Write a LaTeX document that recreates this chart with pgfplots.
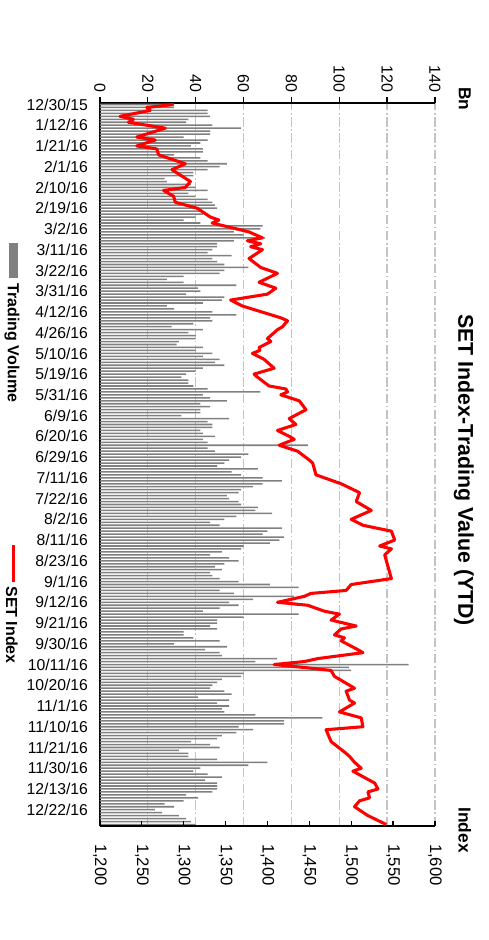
\documentclass[border=0pt]{standalone}
\usepackage{fontspec}
\setmainfont{Liberation Sans}
\usepackage{pgfplots}
\usepackage{pgfplotstable}
\pgfplotsset{compat=1.18}
\definecolor{volgray}{RGB}{128,128,128}
\definecolor{gridgray}{RGB}{196,196,196}

% daily trading value (Bn), one row per trading day from 12/30/15
\pgfplotstableread[row sep=\\]{v\\
31\\31\\45\\45\\46\\37\\36\\47\\59\\46\\
46\\35\\45\\42\\38\\43\\43\\31\\42\\45\\
53\\50\\45\\39\\39\\27\\28\\38\\40\\45\\
37\\40\\45\\47\\48\\49\\43\\43\\40\\35\\
42\\68\\67\\56\\60\\69\\
56\\49\\49\\47\\45\\55\\47\\49\\52\\62\\
52\\50\\35\\28\\35\\57\\41\\42\\36\\52\\
51\\43\\28\\31\\47\\57\\46\\47\\39\\30\\
43\\37\\40\\40\\33\\32\\43\\40\\47\\43\\
50\\48\\52\\43\\40\\36\\34\\37\\37\\39\\
45\\
67\\43\\46\\53\\42\\46\\42\\42\\34\\54\\
45\\47\\47\\42\\43\\48\\43\\45\\87\\45\\
48\\62\\59\\54\\52\\49\\66\\55\\59\\68\\
76\\68\\64\\59\\58\\53\\54\\58\\59\\66\\
65\\72\\57\\52\\46\\50\\76\\70\\
68\\77\\75\\71\\60\\59\\51\\46\\54\\58\\
52\\48\\51\\46\\47\\50\\58\\71\\83\\50\\
56\\81\\64\\54\\58\\50\\43\\83\\60\\49\\
49\\46\\49\\35\\35\\39\\50\\31\\53\\44\\
50\\51\\74\\65\\
129\\104\\105\\60\\59\\
51\\49\\47\\46\\52\\55\\41\\54\\49\\54\\
51\\52\\65\\93\\77\\77\\58\\64\\57\\51\\
49\\38\\46\\50\\33\\37\\37\\49\\70\\62\\
42\\39\\45\\51\\44\\49\\49\\49\\47\\36\\
41\\35\\27\\31\\23\\26\\33\\36\\38\\
40\\
}\vol

% SET index, d = trading-day number
\pgfplotstableread[row sep=\\]{d s\\
0 1288\\ 1 1256\\ 2 1260\\ 4 1224\\ 5 1240\\ 6 1234\\ 8 1278\\ 11 1244\\
12 1266\\ 14 1244\\ 15 1268\\ 17 1270\\ 20 1302\\ 22 1286\\ 26 1308\\
28 1302\\ 29 1276\\ 31 1288\\ 33 1290\\ 35 1316\\ 38 1332\\ 39 1342\\
40 1334\\ 43 1378\\ 45 1394\\ 46 1376\\ 47 1392\\ 48 1380\\ 49 1394\\
52 1378\\ 55 1392\\ 57 1412\\ 60 1390\\ 62 1410\\ 64 1400\\ 66 1356\\
68 1370\\ 72 1416\\ 73 1424\\ 75 1418\\ 76 1412\\ 79 1400\\ 80 1404\\
82 1390\\ 83 1391\\ 84 1382\\ 86 1396\\ 89 1408\\ 91 1384\\ 92 1388\\
95 1402\\ 96 1422\\ 97 1424\\ 98 1416\\ 100 1438\\ 103 1446\\ 106 1426\\
108 1434\\ 110 1412\\ 112 1426\\ 113 1432\\ 115 1414\\ 117 1436\\
120 1450\\ 121 1454\\ 125 1458\\ 128 1488\\ 131 1510\\ 134 1506\\
137 1524\\ 140 1500\\ 142 1514\\ 144 1548\\ 147 1552\\ 149 1534\\
150 1548\\ 152 1540\\ 156 1544\\ 158 1546\\ 160 1548\\ 162 1500\\
164 1494\\ 165 1452\\ 166 1444\\ 168 1412\\ 169 1448\\ 171 1468\\
172 1486\\ 174 1476\\ 176 1506\\ 177 1488\\ 179 1480\\ 180 1492\\
181 1488\\ 184 1508\\ 185 1514\\ 187 1460\\ 188 1444\\ 189 1408\\
190 1444\\ 191 1476\\ 193 1480\\ 197 1504\\ 198 1494\\ 201 1498\\
202 1504\\ 205 1486\\ 207 1512\\ 210 1514\\ 211 1470\\ 215 1476\\
219 1494\\ 220 1498\\ 222 1504\\ 224 1512\\ 225 1502\\ 229 1528\\
231 1532\\ 232 1520\\ 234 1522\\ 235 1510\\ 237 1504\\ 240 1520\\
243 1542\\
}\setidx

\begin{document}
\begin{tikzpicture}
\begin{axis}[
  name=ax, at={(0,0)}, anchor=north west,
  scale only axis, width=251.25pt, height=542.25pt,
  xmin=0, xmax=140, ymin=-243.5, ymax=0.5,
  axis x line*=top, axis y line*=left,
  axis line style={line width=1.5pt, -},
  xtick={0,20,...,140},
  ytick={0,-7,...,-238},
  yticklabels={12/30/15,1/12/16,1/21/16,2/1/16,2/10/16,2/19/16,3/2/16,3/11/16,
    3/22/16,3/31/16,4/12/16,4/26/16,5/10/16,5/19/16,5/31/16,6/9/16,6/20/16,
    6/29/16,7/11/16,7/22/16,8/2/16,8/11/16,8/23/16,9/1/16,9/12/16,9/21/16,
    9/30/16,10/11/16,10/20/16,11/1/16,11/10/16,11/21/16,11/30/16,12/13/16,12/22/16},
  ytick style={draw=none},
  xtick style={line width=1pt, black},
  tick align=outside, major tick length=4.5pt,
  xmajorgrids,
  grid style={gridgray, line width=1pt, dash pattern=on 7pt off 2pt on 1.2pt off 2pt},
  xticklabel style={rotate=-90, anchor=east, font=\fontsize{12}{12}\selectfont},
  yticklabel style={font=\fontsize{11.8}{12}\selectfont, xshift=-1pt},
  /pgf/number format/assume math mode=true,
]
\addplot[xbar, bar width=1.15pt, fill=volgray, draw=none]
  table[x index=0, y index=0, y expr=-\coordindex] {\vol};
\end{axis}

\begin{axis}[
  at={(ax.south west)}, anchor=south west,
  scale only axis, width=251.25pt, height=542.25pt,
  xmin=1200, xmax=1600, ymin=-243.5, ymax=0.5,
  axis x line*=bottom, axis y line=none,
  axis line style={line width=1.5pt, -},
  xtick={1200,1250,...,1600},
  tick align=inside, major tick length=4pt,
  xtick style={line width=1pt, black},
  xticklabel shift=10pt,
  xticklabel style={rotate=-90, anchor=west, font=\fontsize{12.5}{12.5}\selectfont,
    /pgf/number format/1000 sep={,}},
  /pgf/number format/assume math mode=true,
  clip=false,
]
\addplot[red, line width=2.3pt, line join=round] table[x=s, y expr=-\thisrow{d}] {\setidx};
\end{axis}

% title, unit labels and legend (chart is turned a quarter clockwise)
\node[rotate=-90, font=\bfseries\fontsize{16}{16}\selectfont]
  at ([shift={(273pt,-275.25pt)}]ax.north west) {SET Index-Trading Value (YTD)};
\node[rotate=-90, font=\bfseries\fontsize{13}{13}\selectfont]
  at ([shift={(273.75pt,3pt)}]ax.north west) {Bn};
\node[rotate=-90, font=\bfseries\fontsize{13}{13}\selectfont]
  at ([shift={(273.75pt,-545.25pt)}]ax.north west) {Index};
\fill[volgray] ([shift={(-68.25pt,-105pt)}]ax.north west) rectangle ([shift={(-61.5pt,-131.25pt)}]ax.north west);
\node[rotate=-90, font=\bfseries\fontsize{12}{12}\selectfont]
  at ([shift={(-66pt,-180pt)}]ax.north west) {Trading Volume};
\draw[red, line width=2.2pt] ([shift={(-64.9pt,-331.5pt)}]ax.north west) -- ([shift={(-64.9pt,-359.25pt)}]ax.north west);
\node[rotate=-90, font=\bfseries\fontsize{12}{12}\selectfont]
  at ([shift={(-66pt,-391.5pt)}]ax.north west) {SET Index};

\path ([shift={(-73.5pt,77.25pt)}]ax.north west) rectangle ([shift={(291.75pt,-627.75pt)}]ax.north west);
\end{tikzpicture}
\end{document}
